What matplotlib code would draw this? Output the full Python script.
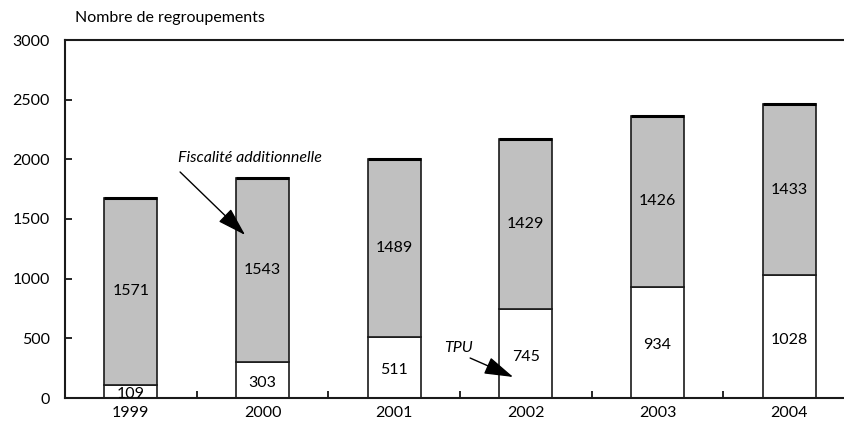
import matplotlib
matplotlib.use("Agg")
import matplotlib.pyplot as plt
import numpy as np

years = ["1999", "2000", "2001", "2002", "2003", "2004"]
tpu = [109, 303, 511, 745, 934, 1028]
fiscalite = [1571, 1543, 1489, 1429, 1426, 1433]

plt.rcParams['font.family'] = ['Lato', 'DejaVu Sans']

fig = plt.figure(figsize=(8.44, 4.32), dpi=100)
ax = fig.add_axes([65/844, 1-398/432, 790/844, 358/432])

x = np.arange(len(years))
w = 0.4
ax.bar(x, tpu, width=w, color="white", edgecolor="#1a1a1a", linewidth=1.2, zorder=2)
ax.bar(x, fiscalite, width=w, bottom=tpu, color="#c0c0c0", edgecolor="#1a1a1a", linewidth=1.2, zorder=2)
totals = np.array(tpu) + np.array(fiscalite)
ax.hlines(totals, x - w/2, x + w/2, color="black", linewidth=2.2, capstyle="butt", zorder=3)

fs = 11.5
for i in range(len(years)):
    ax.text(x[i], tpu[i]/2 - 25, str(tpu[i]), ha="center", va="center", fontsize=fs, zorder=4)
    ax.text(x[i], tpu[i] + fiscalite[i]/2, str(fiscalite[i]), ha="center", va="center", fontsize=fs, zorder=4)

ax.set_xlim(-0.5, len(years) - 0.5)
ax.set_ylim(0, 3000)
ax.set_yticks(np.arange(0, 3001, 500))
ax.set_xticks(x)
ax.set_xticklabels(years)
ax.set_xticks(np.arange(0.5, len(years) - 0.5, 1), minor=True)
ax.tick_params(axis="x", which="major", length=0, pad=6, labelsize=fs)
ax.tick_params(axis="x", which="minor", direction="in", length=5, width=1.2)
ax.tick_params(axis="y", direction="in", length=5, width=1.2, pad=11, labelsize=fs)

for s in ["left", "bottom", "top"]:
    ax.spines[s].set_linewidth(1.5)
    ax.spines[s].set_color("#1a1a1a")
ax.spines["right"].set_visible(False)

fig.text(75/844, 1-18/432, "Nombre de regroupements", ha="left", va="center", fontsize=fs)

ax.text(0.36, 2011, "Fiscalité additionnelle", ha="left", va="center", fontsize=fs, style="italic", zorder=5)
ax.annotate("", xy=(0.868, 1366), xytext=(0.374, 1894),
            arrowprops=dict(arrowstyle="-|>,head_length=1.8,head_width=0.55",
                            color="black", lw=1, shrinkA=0, shrinkB=0), zorder=5)
ax.text(2.38, 419, "TPU", ha="left", va="center", fontsize=fs, style="italic", zorder=5)
ax.annotate("", xy=(2.904, 176), xytext=(2.577, 335),
            arrowprops=dict(arrowstyle="-|>,head_length=1.8,head_width=0.55",
                            color="black", lw=1, shrinkA=0, shrinkB=0), zorder=5)

fig.savefig("out.png", dpi=100)
